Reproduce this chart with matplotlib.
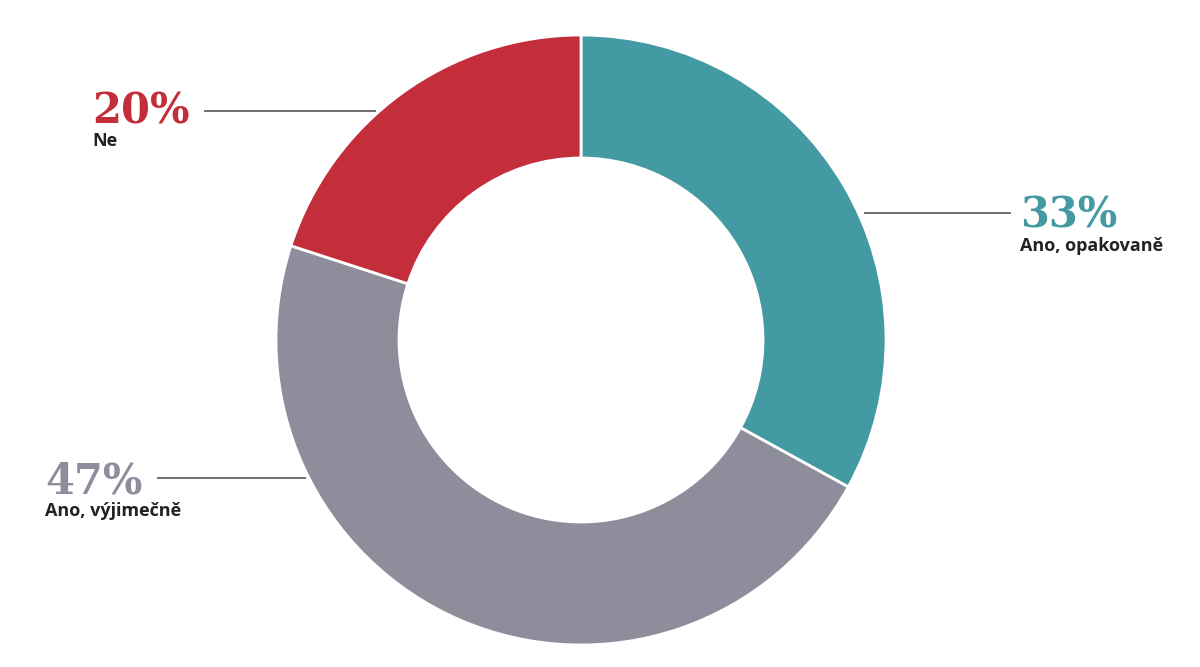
import matplotlib.pyplot as plt

# data
labels = ['Ano, opakovaně', 'Ano, výjimečně', 'Ne']
values = [33, 47, 20]
colors = ['#449aa2', '#8d8d9c', '#c42e3b']

W, H = 1200, 667
fig = plt.figure(figsize=(12, 6.67), dpi=100)
ax = fig.add_axes([0, 0, 1, 1])

cx, cy = 581, H - 340
ax.pie(values, colors=colors, startangle=90, counterclock=False,
       center=(cx, cy), radius=305, frame=True,
       wedgeprops=dict(width=123, edgecolor='white', linewidth=2))
ax.set_xlim(0, W)
ax.set_ylim(0, H)
ax.set_aspect('equal')
ax.axis('off')

# label placement (text x, pct baseline y, line x0, x1, line y) in pixel coords
places = [(1020, 228, 865, 1010, 213),
          (45, 493, 158, 305, 478),
          (92, 123, 205, 375, 111)]

for lab, val, col, (tx, ty, x0, x1, ly) in zip(labels, values, colors, places):
    ax.text(tx, H - ty, '%d%%' % val, color=col, fontsize=30, fontweight='bold',
            family='DejaVu Serif', ha='left', va='baseline')
    ax.text(tx, H - ty - 23, lab, color='#222222', fontsize=13, fontweight='bold',
            family='Open Sans', ha='left', va='baseline')
    ax.plot([x0, x1], [H - ly, H - ly], color='#6e6e6e', lw=1.4)

plt.savefig('out.png', dpi=100)
